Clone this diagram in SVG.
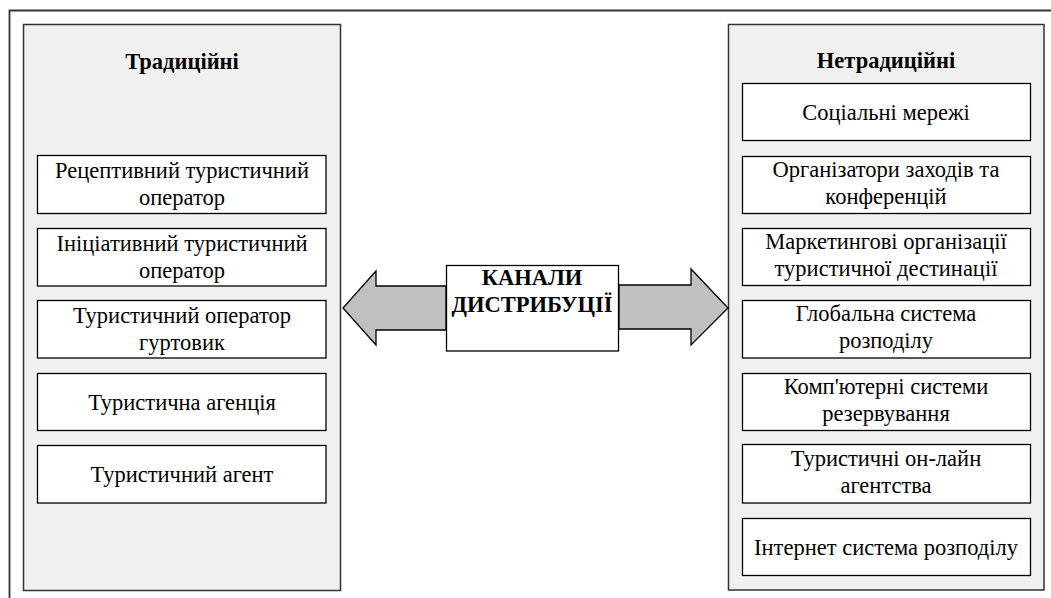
<svg xmlns="http://www.w3.org/2000/svg" width="1051" height="598" viewBox="0 0 1051 598">
<style>
text{font-family:'Liberation Serif','DejaVu Serif',serif;font-size:22.5px;fill:#000;text-anchor:middle}
.b{font-weight:bold}
.panel{fill:#f0f0f0;stroke:#333;stroke-width:1.5}
.box{fill:#fff;stroke:#000;stroke-width:1.3}
.arrow{fill:#c0c0c0;stroke:#000;stroke-width:1.3;stroke-linejoin:miter}
</style>
<rect x="0" y="0" width="1051" height="598" fill="#fff"/>
<path d="M9.5,598 V10.5 H1051" fill="none" stroke="#333" stroke-width="1.8"/>
<g id="panel-left">
<rect class="panel" x="23.5" y="24.5" width="317" height="566"/>
<text class="b" x="182" y="69">Традиційні</text>
</g>
<g id="panel-right">
<rect class="panel" x="728.5" y="24.5" width="315.5" height="565.5"/>
<text class="b" x="886" y="68">Нетрадиційні</text>
</g>
<g id="connectors">
<polygon class="arrow" points="446,286 376,286 376,271 343,308 376,345 376,330 446,330"/>
<polygon class="arrow" points="619,285 691,285 691,269 728,308 691,345 691,329 619,329"/>
</g>
<g id="center">
<rect class="box" x="446.5" y="265.5" width="172" height="85.5"/>
<text class="b" x="532" y="285">КАНАЛИ</text>
<text class="b" x="532" y="312">ДИСТРИБУЦІЇ</text>
</g>
<g id="l1"><rect class="box" x="37.5" y="155.5" width="288.5" height="58"/>
<text x="182" y="178">Рецептивний туристичний</text><text x="182" y="205">оператор</text></g>
<g id="l2"><rect class="box" x="37.5" y="228.5" width="288.5" height="57.5"/>
<text x="182" y="251">Ініціативний туристичний</text><text x="182" y="278">оператор</text></g>
<g id="l3"><rect class="box" x="37.5" y="300.5" width="288.5" height="57.5"/>
<text x="182" y="323">Туристичний оператор</text><text x="182" y="350">гуртовик</text></g>
<g id="l4"><rect class="box" x="37.5" y="373.5" width="288.5" height="57"/>
<text x="182" y="410">Туристична агенція</text></g>
<g id="l5"><rect class="box" x="37.5" y="445.5" width="288.5" height="57.5"/>
<text x="182" y="482">Туристичний агент</text></g>
<g id="r1"><rect class="box" x="742.5" y="83.5" width="288" height="57"/>
<text x="886" y="120">Соціальні мережі</text></g>
<g id="r2"><rect class="box" x="742.5" y="156.5" width="288" height="57"/>
<text x="886" y="177">Організатори заходів та</text><text x="886" y="204">конференцій</text></g>
<g id="r3"><rect class="box" x="742.5" y="228.5" width="288" height="57"/>
<text x="886" y="249">Маркетингові організації</text><text x="886" y="276">туристичної дестинації</text></g>
<g id="r4"><rect class="box" x="742.5" y="300.5" width="288" height="57.5"/>
<text x="886" y="321">Глобальна система</text><text x="886" y="348">розподілу</text></g>
<g id="r5"><rect class="box" x="742.5" y="373.5" width="288" height="57"/>
<text x="886" y="394">Комп'ютерні системи</text><text x="886" y="421">резервування</text></g>
<g id="r6"><rect class="box" x="742.5" y="444.5" width="288" height="58.5"/>
<text x="886" y="466">Туристичні он-лайн</text><text x="886" y="493">агентства</text></g>
<g id="r7"><rect class="box" x="742.5" y="518.5" width="288" height="57"/>
<text x="886" y="555">Інтернет система розподілу</text></g>
</svg>
